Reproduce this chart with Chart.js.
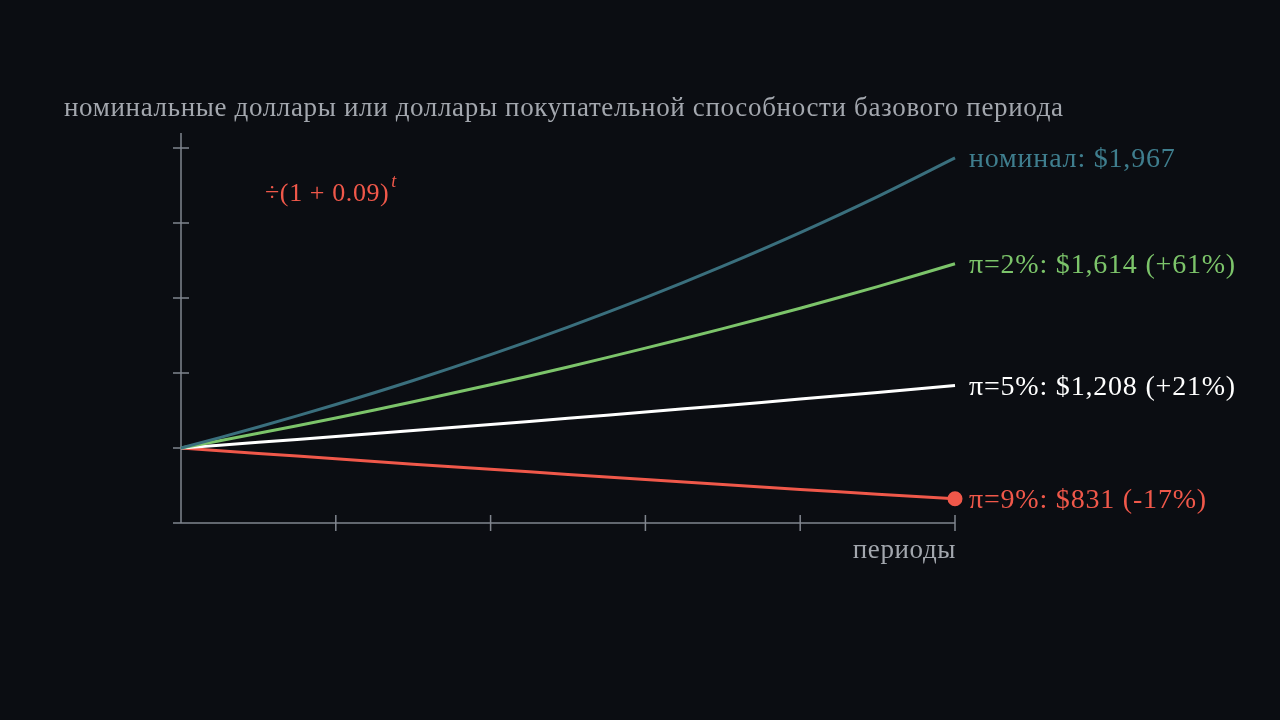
<!DOCTYPE html>
<html>
<head>
<meta charset="utf-8">
<script src="https://cdn.jsdelivr.net/npm/chart.js@4"></script>
<style>
  html, body { margin: 0; padding: 0; background: #0b0d12; }
  #wrap { width: 1280px; height: 720px; position: relative; }
</style>
</head>
<body>
<div id="wrap"><canvas id="growthChart"></canvas></div>
<script>
// periods 0..10
const periods = [0, 1, 2, 3, 4, 5, 6, 7, 8, 9, 10];

// values in dollars
const nominal   = [1000, 1070, 1145, 1225, 1311, 1403, 1501, 1606, 1718, 1838, 1967];
const infl2     = [1000, 1049, 1100, 1154, 1211, 1270, 1333, 1398, 1466, 1538, 1614];
const infl5     = [1000, 1019, 1038, 1058, 1078, 1099, 1120, 1141, 1163, 1185, 1208];
const infl9     = [1000,  982,  964,  946,  929,  912,  895,  878,  862,  846,  831];

const yTicks = [750, 1000, 1250, 1500, 1750, 2000];
const xTicks = [2, 4, 6, 8, 10];

const endLabels = [
    'номинал: $1,967',
    'π=2%: $1,614 (+61%)',
    'π=5%: $1,208 (+21%)',
    'π=9%: $831 (-17%)'
];
const titleText = 'номинальные доллары или доллары покупательной способности базового периода';
const xAxisLabel = 'периоды';

const colors = ['#3a6f7d', '#7cc46a', '#ffffff', '#f0584a'];
const labelColors = ['#3f7e8e', '#7cc46a', '#ffffff', '#f0584a'];
const serif = '"Liberation Serif", "DejaVu Serif", serif';

function toPoints(arr) {
    return arr.map((v, i) => ({ x: periods[i], y: v }));
}

// axes with crossing ticks, labels, annotation
const decor = {
    id: 'decor',
    beforeDatasetsDraw(chart) {
        const c = chart.ctx;
        const xs = chart.scales.x, ys = chart.scales.y;
        const x0 = xs.getPixelForValue(0);
        const yb = ys.getPixelForValue(750);
        c.save();
        c.strokeStyle = '#80858e';
        c.lineWidth = 1.5;
        c.beginPath();
        c.moveTo(x0, ys.getPixelForValue(2050));
        c.lineTo(x0, yb);
        c.moveTo(x0 - 8, yb);
        c.lineTo(xs.getPixelForValue(10), yb);
        yTicks.forEach(v => {
            if (v === 750) return;
            const y = ys.getPixelForValue(v);
            c.moveTo(x0 - 8, y);
            c.lineTo(x0 + 8, y);
        });
        xTicks.forEach(v => {
            const x = xs.getPixelForValue(v);
            c.moveTo(x, yb - 8);
            c.lineTo(x, yb + 8);
        });
        c.stroke();
        c.restore();
    },
    afterDatasetsDraw(chart) {
        const c = chart.ctx;
        const xs = chart.scales.x, ys = chart.scales.y;
        c.save();
        // title
        c.font = '27px ' + serif;
        c.letterSpacing = '0.65px';
        c.fillStyle = '#a3a7ae';
        c.textBaseline = 'alphabetic';
        c.textAlign = 'left';
        c.fillText(titleText, 64, 116);

        // x axis label
        c.textAlign = 'right';
        c.letterSpacing = '0.6px';
        c.fillText(xAxisLabel, xs.getPixelForValue(10) + 1, 558);

        // end labels
        c.textAlign = 'left';
        c.textBaseline = 'middle';
        c.font = '28px ' + serif;
        c.letterSpacing = '0.8px';
        const series = [nominal, infl2, infl5, infl9];
        series.forEach((s, i) => {
            c.fillStyle = labelColors[i];
            c.fillText(endLabels[i], xs.getPixelForValue(10) + 14, ys.getPixelForValue(s[s.length - 1]) + 2);
        });

        // deflator annotation
        c.fillStyle = '#f0584a';
        c.textBaseline = 'alphabetic';
        c.font = '26px ' + serif;
        c.letterSpacing = '0.6px';
        const ann = '÷(1 + 0.09)';
        c.fillText(ann, 265, 201);
        const w = c.measureText(ann).width;
        c.font = 'italic 18px ' + serif;
        c.letterSpacing = '0px';
        c.fillText('t', 265 + w + 2, 187);
        c.restore();
    }
};

const ctx = document.getElementById('growthChart').getContext('2d');
const lastIdx = periods.length - 1;

new Chart(ctx, {
    type: 'line',
    data: {
        datasets: [nominal, infl2, infl5, infl9].map((s, i) => ({
            label: endLabels[i],
            data: toPoints(s),
            borderColor: colors[i],
            backgroundColor: colors[i],
            borderWidth: 3,
            tension: 0.3,
            clip: false,
            pointRadius: i === 3 ? (p => p.dataIndex === lastIdx ? 6 : 0) : 0,
            pointHoverRadius: 0
        }))
    },
    options: {
        responsive: true,
        maintainAspectRatio: false,
        animation: false,
        layout: { padding: { left: 181, right: 325, top: 133, bottom: 197 } },
        plugins: {
            legend: { display: false },
            tooltip: { enabled: false }
        },
        scales: {
            x: { type: 'linear', min: 0, max: 10, display: false },
            y: { type: 'linear', min: 750, max: 2050, display: false }
        }
    },
    plugins: [decor]
});
</script>
</body>
</html>
